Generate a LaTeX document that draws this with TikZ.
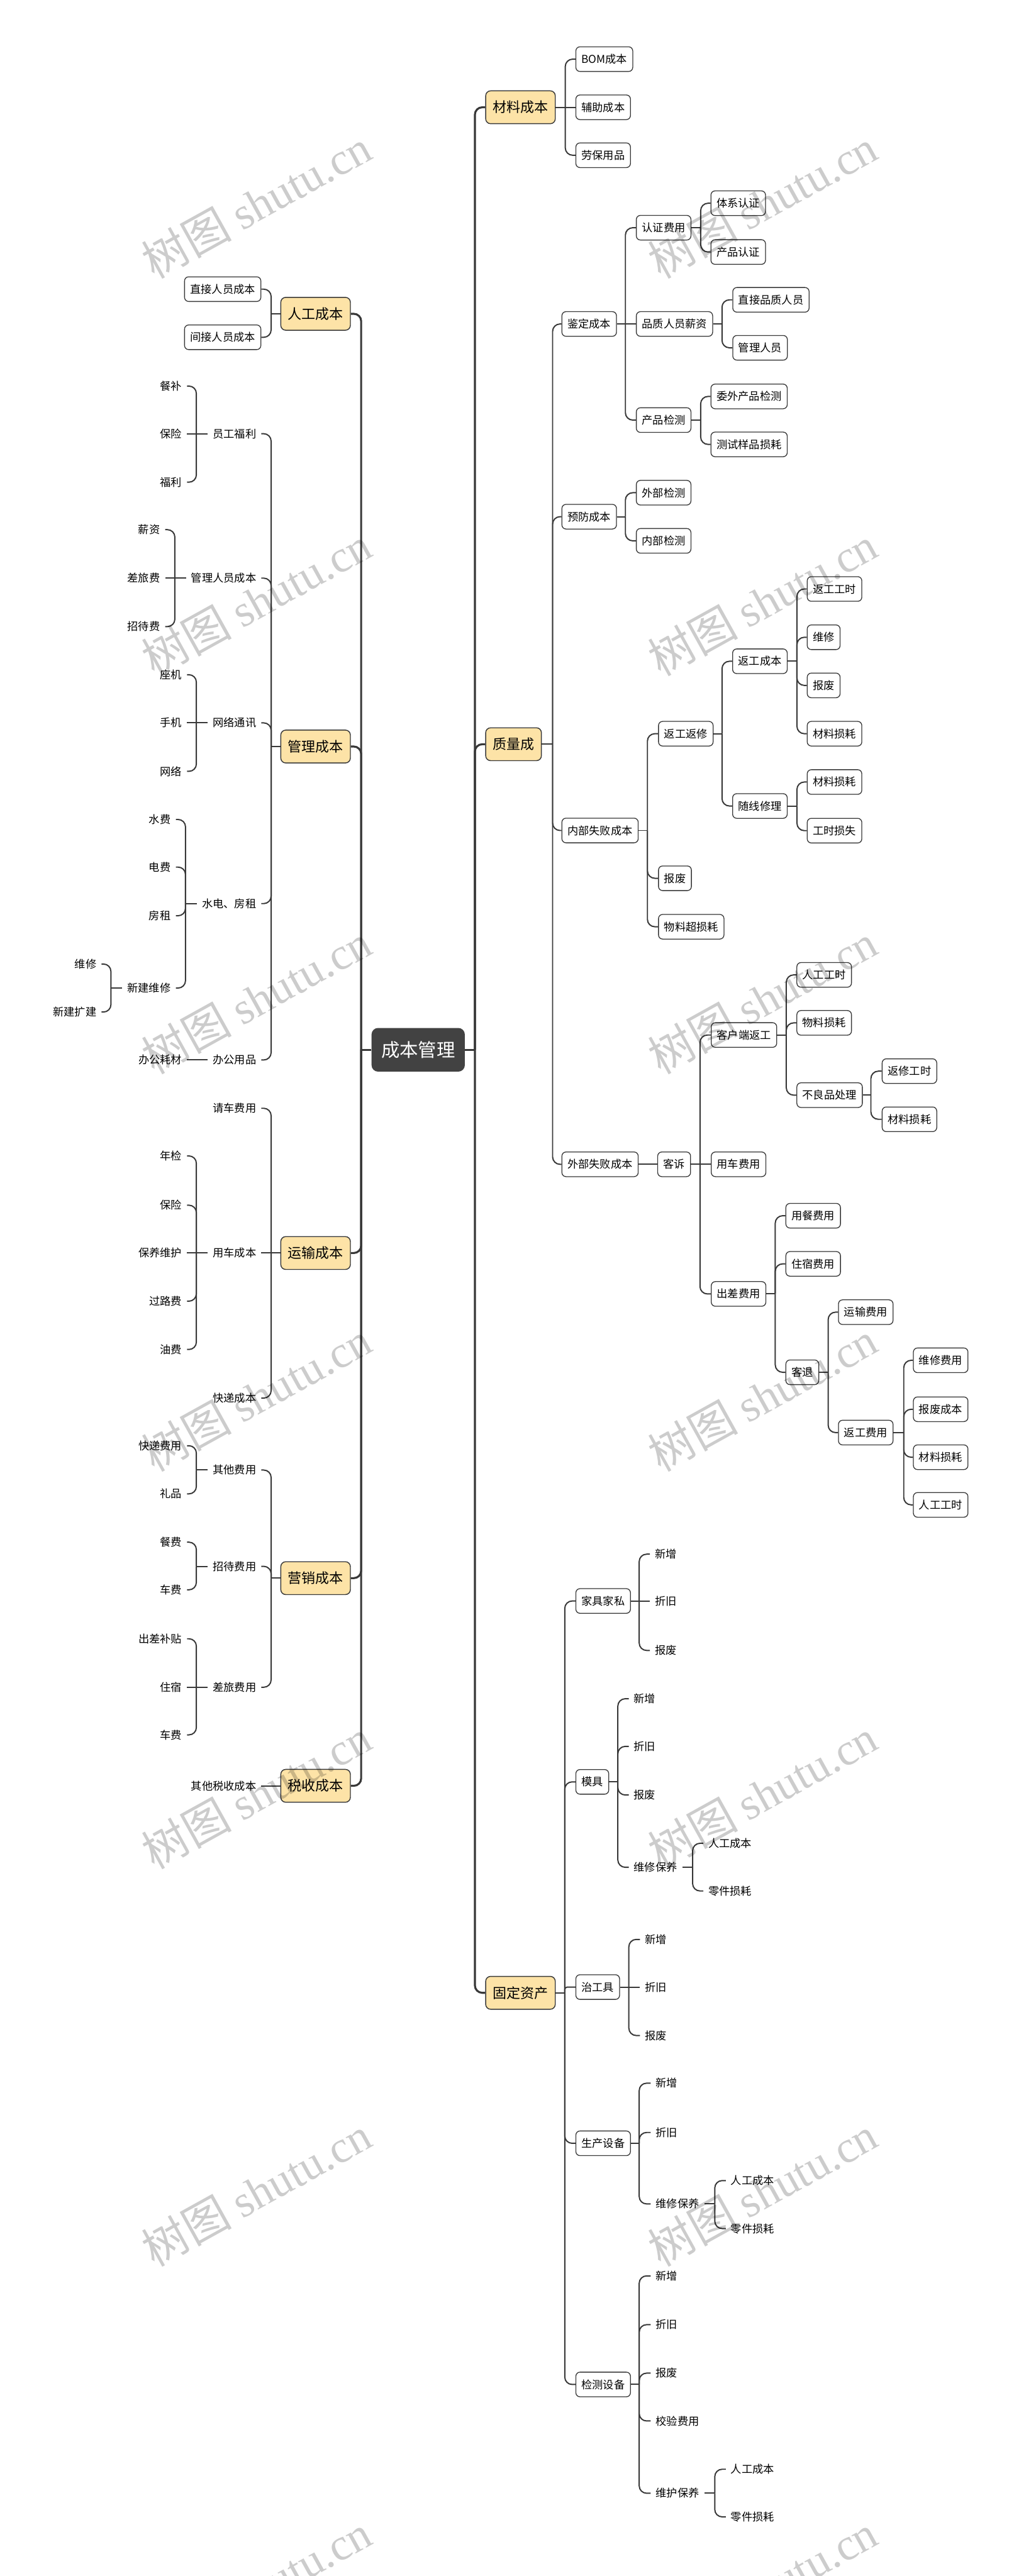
\documentclass[tikz,border=0pt]{standalone}
\usepackage{fontspec}
\setmainfont{Noto Sans CJK SC}
\newfontfamily\wmlatin{Liberation Serif}
\pgfdeclarelayer{bg}
\pgfsetlayers{bg,main}
\definecolor{lc}{HTML}{383838}
\definecolor{yf}{HTML}{FDE3A7}
\definecolor{rootf}{HTML}{424242}
\newcommand\conR[2]{\draw[cn] (#1) |- (#2.west);}
\newcommand\strR[2]{\draw[cn] (#1) -- (#2.west);}
\newcommand\conL[2]{\draw[cn] (#1) |- (#2.east);}
\newcommand\strL[2]{\draw[cn] (#1) -- (#2.east);}
\begin{document}
\begin{tikzpicture}[x=0.1cm,y=-0.1cm,
 sb/.style={draw=lc,line width=0.05cm,fill=white,rounded corners=0.25cm,minimum height=1.5cm,inner xsep=0.34cm,inner ysep=0pt,font=\fontsize{18.8pt}{20pt}\selectfont},
 lone/.style={draw=lc,line width=0.055cm,fill=yf,rounded corners=0.3cm,minimum height=2cm,inner xsep=0.43cm,inner ysep=0pt,font=\fontsize{24pt}{26pt}\selectfont},
 rootbox/.style={fill=rootf,rounded corners=0.4cm,minimum height=2.66cm,inner xsep=0.59cm,inner ysep=0pt,text=white,font=\fontsize{32pt}{34pt}\selectfont},
 ptx/.style={inner xsep=0.3cm,inner ysep=0pt,minimum height=1.2cm,font=\fontsize{18.8pt}{20pt}\selectfont},
 trunk/.style={draw=lc,line width=0.12cm,rounded corners=0.45cm},
 cn/.style={draw=lc,line width=0.075cm,rounded corners=0.45cm},
 wm/.style={rotate=29,text=black,text opacity=0.2,font=\fontsize{78pt}{78pt}\selectfont,inner sep=0pt}
]
\useasboundingbox (0,0) rectangle (617,1568);

% ---------- root ----------
\node[rootbox] (root) at (254.5,639) {成本管理};

% ---------- right level 1 ----------
\node[lone,anchor=west] (R1) at (295.3,65.3) {材料成本};
\node[lone,anchor=west] (R2) at (295.3,453) {质量成};
\node[lone,anchor=west] (R3) at (295.3,1213) {固定资产};

% ---------- left level 1 ----------
\node[lone,anchor=east] (L1) at (213.5,191) {人工成本};
\node[lone,anchor=east] (L2) at (213.5,454.4) {管理成本};
\node[lone,anchor=east] (L3) at (213.5,762.7) {运输成本};
\node[lone,anchor=east] (L4) at (213.5,960.6) {营销成本};
\node[lone,anchor=east] (L5) at (213.5,1087) {税收成本};

% ---------- 材料成本 ----------
\node[sb,anchor=west] (c11) at (350.2,36) {BOM成本};
\node[sb,anchor=west] (c12) at (350.2,65.3) {辅助成本};
\node[sb,anchor=west] (c13) at (350.2,94.5) {劳保用品};

% ---------- 质量成 ----------
\node[sb,anchor=west] (q1) at (341.7,197.2) {鉴定成本};
\node[sb,anchor=west] (q2) at (341.7,314.5) {预防成本};
\node[sb,anchor=west] (q3) at (341.7,505.5) {内部失败成本};
\node[sb,anchor=west] (q4) at (341.7,708.7) {外部失败成本};

\node[sb,anchor=west] (q11) at (387,138.6) {认证费用};
\node[sb,anchor=west] (q12) at (387,197.2) {品质人员薪资};
\node[sb,anchor=west] (q13) at (387,255.7) {产品检测};
\node[sb,anchor=west] (q111) at (432.4,123.7) {体系认证};
\node[sb,anchor=west] (q112) at (432.4,153.4) {产品认证};
\node[sb,anchor=west] (q121) at (445.7,182.5) {直接品质人员};
\node[sb,anchor=west] (q122) at (445.7,211.7) {管理人员};
\node[sb,anchor=west] (q131) at (432.4,241.3) {委外产品检测};
\node[sb,anchor=west] (q132) at (432.4,270.5) {测试样品损耗};

\node[sb,anchor=west] (q21) at (387,299.9) {外部检测};
\node[sb,anchor=west] (q22) at (387,329.2) {内部检测};

\node[sb,anchor=west] (q31) at (400.5,446.6) {返工返修};
\node[sb,anchor=west] (q32) at (400.5,534.6) {报废};
\node[sb,anchor=west] (q33) at (400.5,564.1) {物料超损耗};
\node[sb,anchor=west] (q311) at (445.6,402.5) {返工成本};
\node[sb,anchor=west] (q312) at (445.6,490.6) {随线修理};
\node[sb,anchor=west] (q3111) at (491,358.5) {返工工时};
\node[sb,anchor=west] (q3112) at (491,387.9) {维修};
\node[sb,anchor=west] (q3113) at (491,417.2) {报废};
\node[sb,anchor=west] (q3114) at (491,446.6) {材料损耗};
\node[sb,anchor=west] (q3121) at (491,476) {材料损耗};
\node[sb,anchor=west] (q3122) at (491,505.6) {工时损失};

\node[sb,anchor=west] (q41) at (400,708.7) {客诉};
\node[sb,anchor=west] (q411) at (432.6,630) {客户端返工};
\node[sb,anchor=west] (q412) at (432.6,708.7) {用车费用};
\node[sb,anchor=west] (q413) at (432.6,787.6) {出差费用};
\node[sb,anchor=west] (q4111) at (484.7,593.4) {人工工时};
\node[sb,anchor=west] (q4112) at (484.7,622.6) {物料损耗};
\node[sb,anchor=west] (q4113) at (484.7,666.6) {不良品处理};
\node[sb,anchor=west] (q41131) at (536.6,652) {返修工时};
\node[sb,anchor=west] (q41132) at (536.6,681.3) {材料损耗};
\node[sb,anchor=west] (q4131) at (478,740) {用餐费用};
\node[sb,anchor=west] (q4132) at (478,769.3) {住宿费用};
\node[sb,anchor=west] (q4133) at (478,835.3) {客退};
\node[sb,anchor=west] (q41331) at (510,798.7) {运输费用};
\node[sb,anchor=west] (q41332) at (510,872) {返工费用};
\node[sb,anchor=west] (r1) at (555.6,828) {维修费用};
\node[sb,anchor=west] (r2) at (555.6,857.8) {报废成本};
\node[sb,anchor=west] (r3) at (555.6,887) {材料损耗};
\node[sb,anchor=west] (r4) at (555.6,916) {人工工时};

% ---------- 固定资产 ----------
\node[sb,anchor=west] (f1) at (350.2,974.5) {家具家私};
\node[sb,anchor=west] (f2) at (350.2,1084.6) {模具};
\node[sb,anchor=west] (f3) at (350.2,1209.5) {治工具};
\node[sb,anchor=west] (f4) at (350.2,1304.6) {生产设备};
\node[sb,anchor=west] (f5) at (350.2,1451.4) {检测设备};

\node[ptx,anchor=west] (f11) at (395.5,946) {新增};
\node[ptx,anchor=west] (f12) at (395.5,974.5) {折旧};
\node[ptx,anchor=west] (f13) at (395.5,1004.6) {报废};

\node[ptx,anchor=west] (f21) at (382.7,1034) {新增};
\node[ptx,anchor=west] (f22) at (382.7,1063) {折旧};
\node[ptx,anchor=west] (f23) at (382.7,1092.6) {报废};
\node[ptx,anchor=west] (f24) at (382.7,1136.6) {维修保养};
\node[ptx,anchor=west] (f241) at (428,1122) {人工成本};
\node[ptx,anchor=west] (f242) at (428,1151) {零件损耗};

\node[ptx,anchor=west] (f31) at (389.5,1180.5) {新增};
\node[ptx,anchor=west] (f32) at (389.5,1209.5) {折旧};
\node[ptx,anchor=west] (f33) at (389.5,1239) {报废};

\node[ptx,anchor=west] (f41) at (396,1268) {新增};
\node[ptx,anchor=west] (f42) at (396,1298) {折旧};
\node[ptx,anchor=west] (f43) at (396,1341.5) {维修保养};
\node[ptx,anchor=west] (f431) at (441.7,1327.3) {人工成本};
\node[ptx,anchor=west] (f432) at (441.7,1356.5) {零件损耗};

\node[ptx,anchor=west] (f51) at (396,1385.3) {新增};
\node[ptx,anchor=west] (f52) at (396,1415) {折旧};
\node[ptx,anchor=west] (f53) at (396,1444.5) {报废};
\node[ptx,anchor=west] (f54) at (396,1473.6) {校验费用};
\node[ptx,anchor=west] (f55) at (396,1517.6) {维护保养};
\node[ptx,anchor=west] (f551) at (441.7,1503) {人工成本};
\node[ptx,anchor=west] (f552) at (441.7,1532) {零件损耗};

% ---------- 人工成本 ----------
\node[sb,anchor=east] (a1) at (159,176) {直接人员成本};
\node[sb,anchor=east] (a2) at (159,205.3) {间接人员成本};

% ---------- 管理成本 ----------
\node[ptx,anchor=east] (m1) at (159,264) {员工福利};
\node[ptx,anchor=east] (m2) at (159,351.9) {管理人员成本};
\node[ptx,anchor=east] (m3) at (159,440) {网络通讯};
\node[ptx,anchor=east] (m4) at (159,550) {水电、房租};
\node[ptx,anchor=east] (m5) at (159,645.2) {办公用品};

\node[ptx,anchor=east] (m11) at (113.8,235) {餐补};
\node[ptx,anchor=east] (m12) at (113.8,264) {保险};
\node[ptx,anchor=east] (m13) at (113.8,293.5) {福利};
\node[ptx,anchor=east] (m21) at (100.5,322.4) {薪资};
\node[ptx,anchor=east] (m22) at (100.5,351.9) {差旅费};
\node[ptx,anchor=east] (m23) at (100.5,381.4) {招待费};
\node[ptx,anchor=east] (m31) at (113.8,410.7) {座机};
\node[ptx,anchor=east] (m32) at (113.8,440) {手机};
\node[ptx,anchor=east] (m33) at (113.8,469.5) {网络};
\node[ptx,anchor=east] (m41) at (107,498.8) {水费};
\node[ptx,anchor=east] (m42) at (107,527.8) {电费};
\node[ptx,anchor=east] (m43) at (107,557.4) {房租};
\node[ptx,anchor=east] (m44) at (107,601.4) {新建维修};
\node[ptx,anchor=east] (m441) at (61.8,586.8) {维修};
\node[ptx,anchor=east] (m442) at (61.8,616) {新建扩建};
\node[ptx,anchor=east] (m51) at (113.8,645.2) {办公耗材};

% ---------- 运输成本 ----------
\node[ptx,anchor=east] (t1) at (159,674.6) {请车费用};
\node[ptx,anchor=east] (t2) at (159,762.7) {用车成本};
\node[ptx,anchor=east] (t3) at (159,851) {快递成本};
\node[ptx,anchor=east] (t21) at (113.8,703.6) {年检};
\node[ptx,anchor=east] (t22) at (113.8,733.6) {保险};
\node[ptx,anchor=east] (t23) at (113.8,762.7) {保养维护};
\node[ptx,anchor=east] (t24) at (113.8,792) {过路费};
\node[ptx,anchor=east] (t25) at (113.8,821.4) {油费};

% ---------- 营销成本 ----------
\node[ptx,anchor=east] (s1) at (159,894.8) {其他费用};
\node[ptx,anchor=east] (s2) at (159,953.4) {招待费用};
\node[ptx,anchor=east] (s3) at (159,1027) {差旅费用};
\node[ptx,anchor=east] (s11) at (113.8,880) {快递费用};
\node[ptx,anchor=east] (s12) at (113.8,909.3) {礼品};
\node[ptx,anchor=east] (s21) at (113.8,938.7) {餐费};
\node[ptx,anchor=east] (s22) at (113.8,967.7) {车费};
\node[ptx,anchor=east] (s31) at (113.8,997.5) {出差补贴};
\node[ptx,anchor=east] (s32) at (113.8,1027) {住宿};
\node[ptx,anchor=east] (s33) at (113.8,1056) {车费};

% ---------- 税收成本 ----------
\node[ptx,anchor=east] (x1) at (159,1087) {其他税收成本};

% ---------- bus coordinates ----------
\coordinate (TR) at (289,639);
\coordinate (TL) at (219.8,639);
\coordinate (bR1) at (344,65.3);
\coordinate (bR2) at (336.3,453);
\coordinate (bR3) at (343.7,1213);
\coordinate (bq1) at (380.6,197.2);
\coordinate (bq11) at (426.4,138.6);
\coordinate (bq12) at (439.4,197.2);
\coordinate (bq13) at (426.4,255.7);
\coordinate (bq2) at (380.6,314.5);
\coordinate (bq3) at (394,505.5);
\coordinate (bq31) at (439.4,446.6);
\coordinate (bq311) at (485,402.5);
\coordinate (bq312) at (485,490.6);
\coordinate (bq41) at (426,708.7);
\coordinate (bq411) at (478.5,630);
\coordinate (bq4113) at (530,666.6);
\coordinate (bq413) at (471.8,787.6);
\coordinate (bq4133) at (504,835.3);
\coordinate (bq41332) at (550,872);
\coordinate (bf1) at (389,974.5);
\coordinate (bf2) at (376,1084.6);
\coordinate (bf24) at (421.5,1136.6);
\coordinate (bf3) at (382.7,1209.5);
\coordinate (bf4) at (389,1304.6);
\coordinate (bf43) at (435,1341.5);
\coordinate (bf5) at (389,1451.4);
\coordinate (bf55) at (435,1517.6);
\coordinate (bL1) at (165,191);
\coordinate (bL2) at (165,454.4);
\coordinate (bL3) at (165,762.7);
\coordinate (bL4) at (165,960.6);
\coordinate (bm1) at (119.5,264);
\coordinate (bm2) at (106.4,351.9);
\coordinate (bm3) at (119.5,440);
\coordinate (bm4) at (112.9,550);
\coordinate (bm44) at (67.5,601.4);
\coordinate (bt2) at (119.5,762.7);
\coordinate (bs1) at (119.5,894.8);
\coordinate (bs2) at (119.5,953.4);
\coordinate (bs3) at (119.5,1027);

\begin{pgfonlayer}{bg}
\fill[white] (0,0) rectangle (617,1568);
% trunks
\draw[trunk] (root.east) -- (TR);
\draw[trunk] (TR) |- (R1.west);
\draw[trunk] (TR) |- (R2.west);
\draw[trunk] (TR) |- (R3.west);
\draw[trunk] (root.west) -- (TL);
\foreach \n in {L1,L2,L3,L4,L5} {\draw[trunk] (TL) |- (\n.east);}

% 材料成本
\draw[cn] (R1.east) -- (bR1);
\conR{bR1}{c11} \strR{bR1}{c12} \conR{bR1}{c13}

% 质量成
\draw[cn] (R2.east) -- (bR2);
\conR{bR2}{q1} \conR{bR2}{q2} \conR{bR2}{q3} \conR{bR2}{q4}
\draw[cn] (q1.east) -- (bq1);
\conR{bq1}{q11} \strR{bq1}{q12} \conR{bq1}{q13}
\draw[cn] (q11.east) -- (bq11); \conR{bq11}{q111} \conR{bq11}{q112}
\draw[cn] (q12.east) -- (bq12); \conR{bq12}{q121} \conR{bq12}{q122}
\draw[cn] (q13.east) -- (bq13); \conR{bq13}{q131} \conR{bq13}{q132}
\draw[cn] (q2.east) -- (bq2); \conR{bq2}{q21} \conR{bq2}{q22}
\draw[cn] (q3.east) -- (bq3); \conR{bq3}{q31} \conR{bq3}{q32} \conR{bq3}{q33}
\draw[cn] (q31.east) -- (bq31); \conR{bq31}{q311} \conR{bq31}{q312}
\draw[cn] (q311.east) -- (bq311); \conR{bq311}{q3111} \conR{bq311}{q3112} \conR{bq311}{q3113} \conR{bq311}{q3114}
\draw[cn] (q312.east) -- (bq312); \conR{bq312}{q3121} \conR{bq312}{q3122}
\draw[cn] (q4.east) -- (q41.west);
\draw[cn] (q41.east) -- (bq41); \conR{bq41}{q411} \strR{bq41}{q412} \conR{bq41}{q413}
\draw[cn] (q411.east) -- (bq411); \conR{bq411}{q4111} \conR{bq411}{q4112} \conR{bq411}{q4113}
\draw[cn] (q4113.east) -- (bq4113); \conR{bq4113}{q41131} \conR{bq4113}{q41132}
\draw[cn] (q413.east) -- (bq413); \conR{bq413}{q4131} \conR{bq413}{q4132} \conR{bq413}{q4133}
\draw[cn] (q4133.east) -- (bq4133); \conR{bq4133}{q41331} \conR{bq4133}{q41332}
\draw[cn] (q41332.east) -- (bq41332); \conR{bq41332}{r1} \conR{bq41332}{r2} \conR{bq41332}{r3} \conR{bq41332}{r4}

% 固定资产
\draw[cn] (R3.east) -- (bR3);
\conR{bR3}{f1} \conR{bR3}{f2} \draw[cn,rounded corners=0.15cm] (bR3) |- (f3.west); \conR{bR3}{f4} \conR{bR3}{f5}
\draw[cn] (f1.east) -- (bf1); \conR{bf1}{f11} \strR{bf1}{f12} \conR{bf1}{f13}
\draw[cn] (f2.east) -- (bf2); \conR{bf2}{f21} \conR{bf2}{f22} \conR{bf2}{f23} \conR{bf2}{f24}
\draw[cn] (f24.east) -- (bf24); \conR{bf24}{f241} \conR{bf24}{f242}
\draw[cn] (f3.east) -- (bf3); \conR{bf3}{f31} \strR{bf3}{f32} \conR{bf3}{f33}
\draw[cn] (f4.east) -- (bf4); \conR{bf4}{f41} \conR{bf4}{f42} \conR{bf4}{f43}
\draw[cn] (f43.east) -- (bf43); \conR{bf43}{f431} \conR{bf43}{f432}
\draw[cn] (f5.east) -- (bf5); \conR{bf5}{f51} \conR{bf5}{f52} \conR{bf5}{f53} \conR{bf5}{f54} \conR{bf5}{f55}
\draw[cn] (f55.east) -- (bf55); \conR{bf55}{f551} \conR{bf55}{f552}

% 人工成本
\draw[cn] (L1.west) -- (bL1); \conL{bL1}{a1} \conL{bL1}{a2}
% 管理成本
\draw[cn] (L2.west) -- (bL2);
\conL{bL2}{m1} \conL{bL2}{m2} \conL{bL2}{m3} \conL{bL2}{m4} \conL{bL2}{m5}
\draw[cn] (m1.west) -- (bm1); \conL{bm1}{m11} \strL{bm1}{m12} \conL{bm1}{m13}
\draw[cn] (m2.west) -- (bm2); \conL{bm2}{m21} \strL{bm2}{m22} \conL{bm2}{m23}
\draw[cn] (m3.west) -- (bm3); \conL{bm3}{m31} \strL{bm3}{m32} \conL{bm3}{m33}
\draw[cn] (m4.west) -- (bm4); \conL{bm4}{m41} \conL{bm4}{m42} \conL{bm4}{m43} \conL{bm4}{m44}
\draw[cn] (m44.west) -- (bm44); \conL{bm44}{m441} \conL{bm44}{m442}
\draw[cn] (m5.west) -- (m51.east);
% 运输成本
\draw[cn] (L3.west) -- (bL3); \conL{bL3}{t1} \strL{bL3}{t2} \conL{bL3}{t3}
\draw[cn] (t2.west) -- (bt2); \conL{bt2}{t21} \conL{bt2}{t22} \strL{bt2}{t23} \conL{bt2}{t24} \conL{bt2}{t25}
% 营销成本
\draw[cn] (L4.west) -- (bL4); \conL{bL4}{s1} \conL{bL4}{s2} \conL{bL4}{s3}
\draw[cn] (s1.west) -- (bs1); \conL{bs1}{s11} \conL{bs1}{s12}
\draw[cn] (s2.west) -- (bs2); \conL{bs2}{s21} \conL{bs2}{s22}
\draw[cn] (s3.west) -- (bs3); \conL{bs3}{s31} \strL{bs3}{s32} \conL{bs3}{s33}
% 税收成本
\draw[cn] (L5.west) -- (x1.east);
\end{pgfonlayer}

% ---------- watermarks ----------
\foreach \wy [count=\i] in {124,366,608,850,1092,1334,1576} {
  \node[wm] (wl\i) at (156,\wy) {树图 {\wmlatin shutu.cn}};
  \node[wm] (wr\i) at (464,\wy) {树图 {\wmlatin shutu.cn}};
}
\end{tikzpicture}
\end{document}
